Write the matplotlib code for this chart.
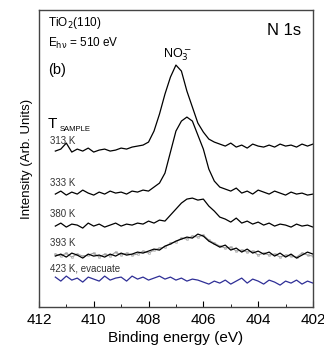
import numpy as np
import matplotlib
matplotlib.use("Agg")
import matplotlib.pyplot as plt

plt.rcParams['font.family'] = ['Liberation Sans', 'DejaVu Sans']

# binding energy grid (eV), 411.4 -> 402.0 in 0.2 eV steps
energy = np.round(np.arange(411.4, 401.95, -0.2), 1)

# stacked N 1s spectra, arbitrary units (offsets included as drawn)
i_313 = [156, 158, 164, 155, 158, 156, 159, 155, 157, 158, 156, 157, 159, 158, 160, 161,
         162, 165, 176, 193, 213, 230, 242, 236, 216, 200, 184, 175, 168, 165, 163,
         161, 164, 160, 162, 159, 163, 161, 160, 162, 160, 163, 161, 162, 160, 163, 161, 163]
i_333 = [113, 116, 112, 115, 113, 117, 114, 112, 115, 113, 116, 114, 115, 113, 116, 115,
         117, 116, 120, 124, 134, 155, 176, 186, 190, 186, 172, 158, 138, 126, 120,
         118, 116, 119, 114, 116, 113, 117, 115, 113, 116, 114, 112, 115, 113, 114, 112, 113]
i_380 = [81, 84, 80, 83, 82, 79, 84, 81, 83, 80, 82, 84, 81, 83, 82, 84,
         83, 86, 84, 87, 86, 92, 98, 104, 108, 109, 107, 108, 101, 96, 90,
         88, 85, 89, 84, 86, 83, 85, 82, 84, 81, 83, 82, 80, 83, 81, 82, 80]
i_393 = [51, 53, 50, 54, 52, 49, 53, 51, 52, 50, 53, 51, 54, 52, 53, 55,
         54, 56, 58, 57, 61, 63, 66, 68, 70, 69, 73, 71, 66, 63, 60,
         62, 57, 59, 55, 58, 54, 56, 53, 55, 51, 54, 50, 53, 49, 52, 55, 53]
i_393b = [53, 51, 54, 50, 53, 51, 52, 54, 50, 53, 51, 55, 52, 54, 52, 53,
          56, 54, 57, 59, 60, 64, 65, 69, 68, 71, 70, 72, 67, 64, 61,
          59, 60, 56, 57, 55, 56, 52, 54, 52, 53, 50, 52, 51, 50, 54, 52, 51]
i_423 = [30, 26, 31, 27, 29, 25, 30, 28, 26, 31, 27, 29, 30, 26, 31, 28,
         30, 27, 29, 31, 28, 30, 27, 29, 26, 28, 27, 25, 23, 26, 24,
         27, 23, 26, 29, 24, 28, 26, 23, 27, 25, 22, 26, 24, 27, 23, 26, 24]

labels = ["313 K", "333 K", "380 K", "393 K", "423 K, evacuate"]
label_y = [166, 124, 93, 64, 39]

fig = plt.figure(figsize=(3.24, 3.47), dpi=100)
ax = fig.add_axes([0.120, 0.115, 0.846, 0.856])

for y in (i_313, i_333, i_380):
    ax.plot(energy, y, color="black", lw=0.9)
ax.plot(energy, i_393b, color="#a0a0a0", lw=0.8, marker="o", ms=1.6, mfc="none", mew=0.4)
ax.plot(energy, i_393, color="black", lw=0.9)
ax.plot(energy, i_423, color="#2e2e96", lw=0.9)

ax.set_xlim(412, 402)
ax.set_ylim(0, 297)
ax.set_yticks([])
ax.set_xticks([412, 410, 408, 406, 404, 402])
ax.set_xticks([411, 409, 407, 405, 403], minor=True)
ax.tick_params(axis="x", which="major", direction="in", length=4, labelsize=11, pad=4)
ax.tick_params(axis="x", which="minor", direction="in", length=2.5)
for s in ax.spines.values():
    s.set_color("#444444")
    s.set_linewidth(1.0)

ax.set_xlabel("Binding energy (eV)", fontsize=11, labelpad=3)
ax.set_ylabel("Intensity (Arb. Units)", fontsize=9.5, labelpad=4)

ax.text(411.67, 284, "TiO$_2$(110)", fontsize=8.5, va="center")
ax.text(411.67, 264, r"E$_{\mathrm{h\nu}}$ = 510 eV", fontsize=8.5, va="center")
ax.text(411.67, 237, "(b)", fontsize=10.5, va="center")
ax.text(402.45, 277, "N 1s", fontsize=12, ha="right", va="center")
ax.text(406.93, 252, "NO$_3^-$", fontsize=9, ha="center", va="center")
ax.text(411.67, 183, "T", fontsize=11, va="center")
ax.text(411.25, 178, "SAMPLE", fontsize=5.5, va="center")
for lab, yy in zip(labels, label_y):
    ax.text(411.6, yy, lab, fontsize=7, va="center", color="#333333")

fig.savefig("out.png", dpi=100)
